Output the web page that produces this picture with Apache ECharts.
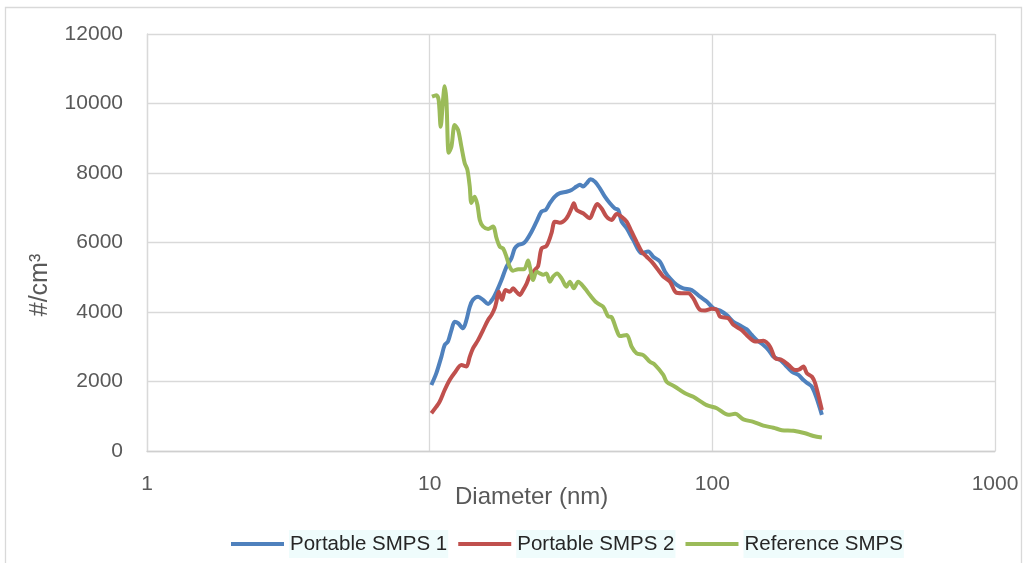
<!DOCTYPE html>
<html>
<head>
<meta charset="utf-8">
<title>Particle size distribution</title>
<script src="https://cdn.jsdelivr.net/npm/echarts@6/dist/echarts.min.js"></script>
<style>
  html, body { margin: 0; padding: 0; background: #ffffff; }
  #chart { width: 1025px; height: 563px; }
</style>
</head>
<body>
<div id="chart"></div>
<script>
// Number concentration (#/cm³) against mobility diameter (nm), as [diameter, count]
const portableSmps1 = [
  [10.14,1900],[10.56,2240],[11.0,2710],[11.30,3050],[11.61,3150],[11.94,3480],[12.26,3720],
  [12.60,3680],[13.12,3530],[13.49,3770],[13.86,4150],[14.23,4350],[14.83,4440],[15.45,4350],
  [16.09,4230],[16.76,4390],[17.23,4580],[17.95,4920],[18.69,5300],[19.47,5550],[20.0,5830],
  [20.55,5930],[21.40,5970],[22.01,6070],[22.93,6310],[23.88,6600],[24.87,6890],[25.76,6940],
  [26.61,7130],[27.72,7320],[28.87,7420],[30.49,7460],[31.76,7510],[33.08,7610],[33.98,7660],
  [34.91,7610],[35.90,7700],[37.09,7820],[38.41,7750],[40.01,7560],[41.68,7320],[43.42,7130],
  [45.22,6980],[46.46,6940],[47.77,6600],[49.76,6410],[52.51,6070],[56.23,5690],[59.33,5740],
  [61.80,5590],[65.27,5450],[68.00,5160],[70.83,4970],[74.81,4780],[78.96,4680],[84.53,4630],
  [90.45,4440],[95.54,4300],[100.8,4110],[106.5,4040],[112.5,3910],[118.7,3720],[125.4,3610],
  [132.4,3500],[137.9,3340],[143.7,3190],[151.6,3050],[157.9,2910],[164.5,2710],[173.7,2620],
  [180.9,2480],[191.1,2280],[201.6,2190],[210.1,2040],[218.9,1930],[225.0,1850],[233.0,1560],
  [244.1,1040]
];

const portableSmps2 = [
  [10.14,1085],[10.56,1275],[10.85,1420],[11.30,1755],[11.77,2040],[12.26,2250],[12.95,2475],
  [13.49,2430],[13.86,2710],[14.23,2955],[14.83,3190],[15.45,3480],[16.09,3770],[16.54,3910],
  [16.99,4110],[17.23,4300],[17.55,4580],[18.03,4350],[18.54,4630],[19.20,4580],[19.73,4680],
  [20.28,4580],[20.84,4490],[21.40,4630],[22.01,4810],[22.61,5040],[23.55,5210],[24.19,5320],
  [24.87,5830],[25.90,5900],[26.98,6270],[27.72,6600],[28.87,6570],[30.49,6700],[31.76,6980],
  [32.36,7130],[33.08,6940],[34.91,6840],[36.88,6700],[37.88,6890],[39.13,7110],[40.57,6980],
  [42.26,6740],[44.03,6650],[45.86,6820],[47.77,6740],[49.76,6600],[51.83,6310],[53.98,6020],
  [56.23,5740],[58.56,5590],[61.00,5450],[64.37,5210],[67.06,5020],[70.83,4870],[74.38,4560],
  [77.93,4540],[82.22,4540],[85.65,4390],[90.45,4060],[94.21,4040],[99.52,4090],[103.7,4060],
  [106.5,3870],[114.0,3820],[118.7,3630],[127.1,3480],[134.1,3290],[141.7,3150],[151.6,3170],
  [160.1,3000],[166.8,2670],[176.1,2620],[185.8,2480],[196.3,2330],[203.3,2350],[210.1,2430],
  [216.0,2240],[225.0,2140],[231.1,1950],[244.1,1180]
];

const referenceSmps = [
  [10.19,10200],[10.56,10240],[10.76,10100],[10.94,9330],[11.15,10100],[11.30,10500],[11.46,10100],
  [11.68,8580],[11.94,8760],[12.26,9380],[12.60,9240],[12.95,8760],[13.30,8290],[13.60,8090],
  [13.86,7610],[14.05,7140],[14.43,7320],[14.76,7080],[15.04,6650],[15.45,6460],[16.09,6390],
  [16.76,6460],[17.23,6130],[17.70,5880],[18.18,5830],[18.69,5590],[19.20,5300],[19.73,5190],
  [20.55,5230],[21.58,5230],[22.30,5480],[22.61,5300],[23.23,4920],[23.88,5160],[24.53,5110],
  [25.19,5070],[25.90,5110],[26.61,4870],[27.34,5020],[28.24,5110],[29.28,4970],[30.49,4730],
  [31.32,4870],[32.36,4680],[33.51,4870],[35.40,4680],[36.88,4490],[38.95,4270],[41.10,4150],
  [42.82,3870],[44.03,3850],[45.86,3480],[47.11,3310],[49.76,3340],[51.83,3000],[53.98,2810],
  [56.97,2760],[60.16,2570],[62.66,2480],[67.06,2190],[68.95,1990],[73.78,1850],[80.06,1660],
  [85.65,1560],[95.54,1320],[103.7,1230],[114.0,1040],[120.4,1070],[128.8,910],[139.7,840],
  [151.6,730],[164.5,670],[176.1,600],[193.6,580],[213.0,510],[227.9,430],[244.1,390]
];

const seriesNames = ['Portable SMPS 1', 'Portable SMPS 2', 'Reference SMPS'];
const xTitle = 'Diameter (nm)';
const yTitle = '#/cm³';

const FONT = '"Liberation Sans", Arial, sans-serif';
const GRID = '#d9d9d9';
const TEXT = '#595959';

const chart = echarts.init(document.getElementById('chart'), null, { renderer: 'canvas' });

function lineSeries(name, data, color) {
  return {
    name: name,
    type: 'line',
    data: data,
    symbol: 'none',
    showSymbol: false,
    smooth: 0.3,
    lineStyle: { color: color, width: 4 },
    itemStyle: { color: color },
    emphasis: { disabled: true }
  };
}

// plain integers on both axes (no thousands separators)
const plain = v => String(Math.round(v));

chart.setOption({
  animation: false,
  backgroundColor: '#ffffff',
  textStyle: { fontFamily: FONT },
  grid: { left: 147, right: 30, top: 34, bottom: 112, containLabel: false },
  xAxis: {
    type: 'log',
    logBase: 10,
    min: 1,
    max: 1000,
    axisLine: { show: true, lineStyle: { color: '#cfcfcf', width: 1.3 } },
    axisTick: { show: false },
    minorTick: { show: false },
    splitLine: { show: true, lineStyle: { color: GRID, width: 1.3 } },
    axisLabel: { color: TEXT, fontSize: 21, margin: 23, fontFamily: FONT, formatter: plain }
  },
  yAxis: {
    type: 'value',
    min: 0,
    max: 12000,
    interval: 2000,
    axisLine: { show: true, lineStyle: { color: GRID, width: 1.3 } },
    axisTick: { show: false },
    splitLine: { show: true, lineStyle: { color: GRID, width: 1.3 } },
    axisLabel: { color: TEXT, fontSize: 21, margin: 24, fontFamily: FONT, formatter: plain }
  },
  legend: {
    left: 226,
    top: 525,
    icon: 'rect',
    itemWidth: 53,
    itemHeight: 4,
    itemGap: 10,
    data: seriesNames,
    textStyle: {
      color: '#262626',
      fontSize: 20.5,
      fontFamily: FONT,
      backgroundColor: '#effcfc',
      padding: [4, 1, 3, 1]
    }
  },
  graphic: [
    {
      type: 'rect',
      silent: true,
      shape: { x: 5.5, y: 7.5, width: 1016, height: 570 },
      style: { fill: 'none', stroke: '#d9d9d9', lineWidth: 1.3 }
    },
    {
      type: 'text',
      silent: true,
      left: 455,
      top: 485,
      style: { text: xTitle, font: '24px ' + FONT, fill: TEXT }
    },
    {
      type: 'text',
      silent: true,
      x: 40,
      y: 285,
      rotation: Math.PI / 2,
      style: { text: yTitle, font: '25px ' + FONT, fill: TEXT, align: 'center', verticalAlign: 'middle' }
    }
  ],
  series: [
    lineSeries(seriesNames[0], portableSmps1, '#4F81BD'),
    lineSeries(seriesNames[1], portableSmps2, '#C0504D'),
    lineSeries(seriesNames[2], referenceSmps, '#9BBB59')
  ]
});
</script>
</body>
</html>
